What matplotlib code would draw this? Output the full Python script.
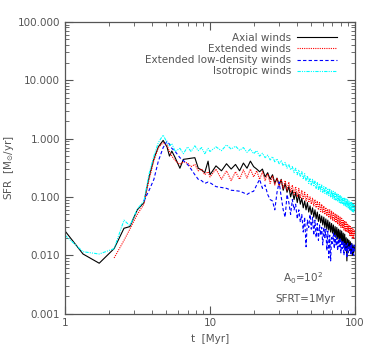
import numpy as np
import matplotlib.pyplot as plt

# sample times [Myr]
t = [1.0, 1.33, 1.72, 2.18, 2.55, 2.8, 3.15, 3.5, 3.8, 4.1, 4.4, 4.75, 5.05, 5.25, 5.45,
     5.75, 6.2, 6.55, 7.0, 7.4, 7.86, 8.3, 8.75, 9.2, 9.7,
     10, 11, 12, 13, 14, 15, 16, 17, 18, 19, 20, 21, 22, 23, 24, 25, 26, 27, 28, 29,
     30, 31, 32, 33, 34, 35, 36, 37, 38, 39, 40, 41, 42, 43, 44, 45, 46, 47, 48, 49,
     50, 51, 52, 53, 54, 55, 56, 57, 58, 59, 60, 61, 62, 63, 64, 65, 66, 67, 68, 69,
     70, 71, 72, 73, 74, 75, 76, 77, 78, 79, 80, 81, 82, 83, 84, 85, 86, 87, 88, 89,
     90, 91, 92, 93, 94, 95, 96, 97, 98, 99, 100]

axial = [0.026, 0.0105, 0.0073, 0.013, 0.029, 0.031, 0.06, 0.08, 0.22, 0.45, 0.72, 0.93, 0.72, 0.5, 0.61,
         0.47, 0.31, 0.44, 0.45, 0.46, 0.47, 0.31, 0.29, 0.26, 0.41,
         0.24, 0.34, 0.28, 0.37, 0.3, 0.36, 0.28, 0.38, 0.31, 0.41, 0.33, 0.3, 0.27, 0.3, 0.22, 0.26, 0.2, 0.24, 0.17, 0.21,
         0.16, 0.2, 0.13, 0.17, 0.12, 0.15, 0.1, 0.13, 0.09, 0.12, 0.08, 0.11, 0.075, 0.095, 0.065, 0.085, 0.06, 0.08, 0.055, 0.07,
         0.05, 0.065, 0.045, 0.06, 0.042, 0.055, 0.038, 0.05, 0.036, 0.047, 0.033, 0.045, 0.03, 0.042, 0.028, 0.04, 0.027, 0.037, 0.025, 0.035,
         0.024, 0.033, 0.022, 0.031, 0.02, 0.03, 0.019, 0.028, 0.018, 0.027, 0.017, 0.026, 0.016, 0.024, 0.014, 0.023, 0.012, 0.02, 0.008, 0.019,
         0.013, 0.018, 0.012, 0.017, 0.011, 0.016, 0.01, 0.015, 0.011, 0.014, 0.012]

extended = [np.nan, np.nan, np.nan, 0.009, 0.018, 0.028, 0.05, 0.075, 0.2, 0.42, 0.7, 0.85, 0.78, 0.6, 0.5,
            0.42, 0.36, 0.4, 0.38, 0.33, 0.36, 0.28, 0.3, 0.24, 0.27,
            0.22, 0.3, 0.2, 0.28, 0.19, 0.27, 0.2, 0.29, 0.21, 0.3, 0.22, 0.28, 0.2, 0.27, 0.19, 0.25, 0.17, 0.23, 0.16, 0.21,
            0.15, 0.2, 0.14, 0.19, 0.13, 0.18, 0.12, 0.16, 0.11, 0.15, 0.1, 0.14, 0.095, 0.13, 0.09, 0.12, 0.085, 0.11, 0.08, 0.1,
            0.075, 0.095, 0.07, 0.09, 0.065, 0.085, 0.06, 0.08, 0.056, 0.075, 0.053, 0.07, 0.05, 0.066, 0.047, 0.062, 0.044, 0.06, 0.042, 0.057,
            0.04, 0.055, 0.038, 0.052, 0.036, 0.05, 0.034, 0.048, 0.032, 0.045, 0.03, 0.043, 0.029, 0.041, 0.027, 0.039, 0.026, 0.037, 0.025, 0.035,
            0.024, 0.033, 0.022, 0.031, 0.021, 0.03, 0.02, 0.028, 0.019, 0.027, 0.022]

lowdens = [np.nan, np.nan, np.nan, np.nan, np.nan, np.nan, np.nan, 0.085, 0.13, 0.2, 0.41, 0.7, 0.9, 0.8, 0.68,
           0.6, 0.47, 0.42, 0.36, 0.3, 0.24, 0.2, 0.19, 0.17, 0.18,
           0.175, 0.15, 0.145, 0.14, 0.13, 0.128, 0.125, 0.118, 0.11, 0.12, 0.125, 0.16, 0.2, 0.14, 0.16, 0.11, 0.09, 0.085, 0.06, 0.12,
           0.18, 0.1, 0.06, 0.045, 0.11, 0.08, 0.05, 0.09, 0.06, 0.075, 0.042, 0.06, 0.037, 0.05, 0.025, 0.045, 0.014, 0.04, 0.03, 0.05,
           0.028, 0.045, 0.022, 0.04, 0.02, 0.035, 0.018, 0.033, 0.022, 0.03, 0.015, 0.03, 0.02, 0.028, 0.012, 0.026, 0.009, 0.022, 0.008, 0.02,
           0.016, 0.024, 0.013, 0.022, 0.015, 0.02, 0.012, 0.019, 0.014, 0.02, 0.011, 0.018, 0.013, 0.017, 0.01, 0.016, 0.012, 0.015, 0.009, 0.016,
           0.011, 0.014, 0.012, 0.015, 0.01, 0.016, 0.011, 0.014, 0.01, 0.015, 0.012]

isotropic = [0.022, 0.0115, 0.0105, 0.013, 0.04, 0.032, 0.062, 0.085, 0.25, 0.5, 0.85, 1.15, 0.85, 0.75, 0.82,
             0.6, 0.68, 0.55, 0.72, 0.6, 0.75, 0.62, 0.7, 0.55, 0.68,
             0.6, 0.72, 0.62, 0.78, 0.66, 0.74, 0.63, 0.7, 0.58, 0.66, 0.55, 0.62, 0.5, 0.56, 0.47, 0.52, 0.43, 0.49, 0.4, 0.45,
             0.37, 0.42, 0.34, 0.39, 0.31, 0.36, 0.29, 0.33, 0.26, 0.31, 0.24, 0.29, 0.22, 0.27, 0.2, 0.25, 0.19, 0.23, 0.17, 0.21,
             0.16, 0.2, 0.15, 0.19, 0.14, 0.18, 0.13, 0.17, 0.125, 0.16, 0.12, 0.15, 0.115, 0.145, 0.11, 0.14, 0.105, 0.135, 0.1, 0.13,
             0.095, 0.125, 0.09, 0.12, 0.088, 0.115, 0.085, 0.11, 0.08, 0.105, 0.078, 0.1, 0.075, 0.098, 0.072, 0.095, 0.07, 0.092, 0.066, 0.09,
             0.063, 0.085, 0.06, 0.082, 0.058, 0.08, 0.056, 0.075, 0.055, 0.072, 0.06]

ytick_vals = [0.001, 0.01, 0.1, 1, 10, 100]
ytick_labels = ["0.001", "0.010", "0.100", "1.000", "10.000", "100.000"]
xtick_vals = [1, 10, 100]
xtick_labels = ["1", "10", "100"]

gray = "#555555"
plt.rcParams['font.family'] = ['DejaVu Sans']

fig = plt.figure(figsize=(3.74, 3.58), dpi=100)
ax = fig.add_axes([0.174, 0.124, 0.775, 0.815])

ax.plot(t, axial, color="black", lw=0.8, label="Axial winds")
ax.plot(t, extended, color="red", lw=0.8, ls=(0, (1, 1)), label="Extended winds")
ax.plot(t, lowdens, color="blue", lw=0.8, ls=(0, (3, 2)), label="Extended low-density winds")
ax.plot(t, isotropic, color="cyan", lw=0.8, ls=(0, (3, 1, 1, 1, 1, 1)), label="Isotropic winds")

ax.set_xscale("log")
ax.set_yscale("log")
ax.set_xlim(1, 100)
ax.set_ylim(0.001, 100)
ax.set_xticks(xtick_vals)
ax.set_xticklabels(xtick_labels)
ax.set_yticks(ytick_vals)
ax.set_yticklabels(ytick_labels)
ax.tick_params(which="both", direction="in", top=True, right=True, colors=gray, labelsize=7.5)
ax.tick_params(which="major", length=6, width=0.8)
ax.tick_params(which="minor", length=3, width=0.6)
for s in ax.spines.values():
    s.set_color(gray)
    s.set_linewidth(0.9)

ax.set_xlabel("t  [Myr]", color=gray, fontsize=7.5)
ax.set_ylabel(r"SFR  [M$_{\odot}$/yr]", color=gray, fontsize=7.5)
ax.yaxis.set_label_coords(-0.168, 0.5)

leg = ax.legend(loc="upper right", bbox_to_anchor=(0.97, 0.995), frameon=False, markerfirst=False,
                fontsize=7.5, handlelength=3.8, labelspacing=0.12, handletextpad=0.6)
for txt in leg.get_texts():
    txt.set_color(gray)
    txt.set_ha("right")

ax.text(0.82, 0.12, r"A$_0$=10$^2$", transform=ax.transAxes, ha="center", va="center", fontsize=7.5, color=gray)
ax.text(0.83, 0.05, "SFRT=1Myr", transform=ax.transAxes, ha="center", va="center", fontsize=7.5, color=gray)

fig.savefig("out.png", dpi=100)
